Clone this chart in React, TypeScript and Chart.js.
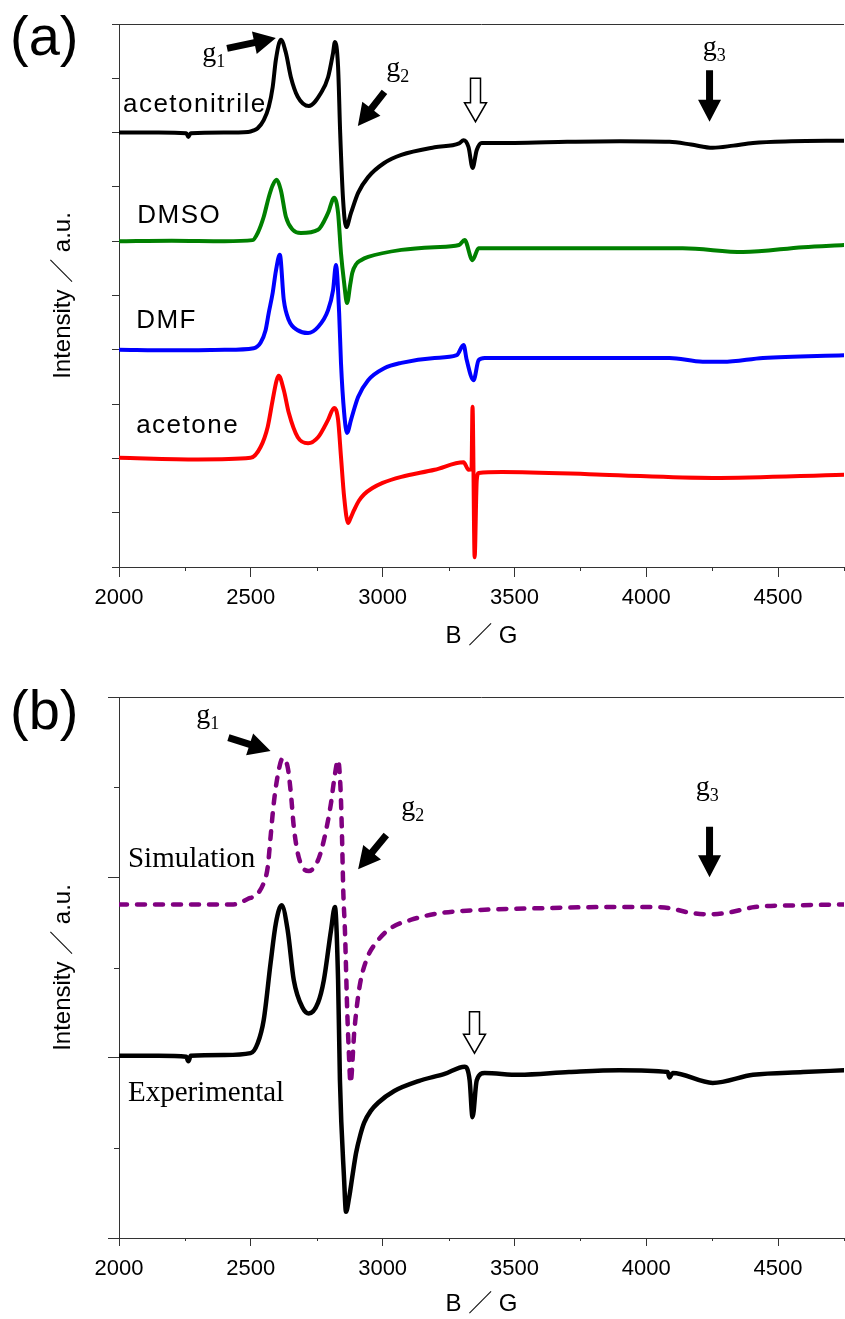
import React, { useEffect, useRef } from 'react';
import { Chart, registerables } from 'chart.js';

Chart.register(...registerables);

const SANS = '"Liberation Sans", Arial, sans-serif';
const SANS_CJK = '"Liberation Sans", "Noto Sans CJK JP", Arial, sans-serif';
const SERIF = '"Liberation Serif", "Times New Roman", serif';
const AXIS_COLOR = '#333333';

// ---------- axes ----------
const X_MIN = 2000;
const X_MAX = 4750;
const xTickValues = [2000, 2250, 2500, 2750, 3000, 3250, 3500, 3750, 4000, 4250, 4500, 4750];
const yTicksA = [0, 1, 2, 3, 4, 5, 6, 7, 8, 9, 10];
const yTicksB = [0, 1, 2, 3, 4, 5, 6];
const xTitle = 'B ／ G';
const yTitle = 'Intensity ／ a.u.';

// ---------- panel (a) ----------
const acnField = [2000, 2150, 2255, 2263, 2272, 2400, 2490, 2511, 2526, 2549, 2568, 2583, 2595, 2614, 2633, 2652, 2678, 2720, 2766, 2793, 2812, 2819, 2831, 2839, 2850, 2862, 2880, 2907, 2945, 3006, 3071, 3197, 3290, 3307, 3326, 3341, 3357, 3376, 3500, 3700, 3900, 4088, 4170, 4252, 4330, 4405, 4550, 4750];
const acnInt = [8.00, 8.00, 7.99, 7.92, 7.99, 8.00, 8.01, 8.04, 8.08, 8.23, 8.47, 8.84, 9.34, 9.71, 9.47, 9.02, 8.66, 8.49, 8.73, 9.02, 9.47, 9.67, 9.21, 7.99, 6.76, 6.26, 6.52, 6.89, 7.18, 7.44, 7.59, 7.73, 7.80, 7.86, 7.73, 7.35, 7.68, 7.81, 7.81, 7.83, 7.84, 7.83, 7.78, 7.72, 7.76, 7.81, 7.84, 7.85];

const dmsoField = [2000, 2200, 2400, 2507, 2526, 2549, 2568, 2583, 2598, 2614, 2633, 2659, 2690, 2755, 2793, 2816, 2831, 2842, 2854, 2865, 2877, 2885, 2900, 2918, 2945, 3071, 3197, 3290, 3311, 3341, 3364, 3600, 4138, 4367, 4595, 4750];
const dmsoInt = [6.00, 6.01, 6.00, 6.02, 6.15, 6.45, 6.81, 7.03, 7.13, 6.94, 6.45, 6.21, 6.15, 6.21, 6.52, 6.80, 6.52, 5.78, 5.23, 4.86, 5.20, 5.42, 5.58, 5.65, 5.71, 5.84, 5.89, 5.93, 6.02, 5.65, 5.87, 5.87, 5.87, 5.80, 5.89, 5.93];

const dmfField = [2000, 2200, 2400, 2511, 2537, 2556, 2568, 2583, 2595, 2610, 2625, 2644, 2678, 2717, 2755, 2793, 2812, 2823, 2835, 2842, 2854, 2865, 2880, 2907, 2945, 3006, 3071, 3197, 3281, 3307, 3319, 3345, 3364, 3387, 4088, 4214, 4290, 4443, 4750];
const dmfInt = [4.00, 3.99, 4.00, 4.03, 4.13, 4.36, 4.68, 5.05, 5.45, 5.75, 4.92, 4.55, 4.36, 4.31, 4.42, 4.73, 5.10, 5.56, 4.68, 3.76, 2.84, 2.47, 2.71, 3.13, 3.44, 3.66, 3.76, 3.85, 3.90, 4.09, 3.81, 3.44, 3.81, 3.85, 3.85, 3.78, 3.78, 3.85, 3.90];

const acetoneField = [2000, 2300, 2499, 2537, 2564, 2583, 2598, 2606, 2625, 2644, 2678, 2717, 2755, 2793, 2816, 2831, 2842, 2854, 2869, 2880, 2892, 2910, 2930, 2960, 3000, 3071, 3197, 3307, 3326, 3337, 3341, 3349, 3357, 3364, 3452, 3833, 4252, 4750];
const acetoneInt = [2.01, 1.98, 2.01, 2.21, 2.58, 3.08, 3.44, 3.52, 3.26, 2.84, 2.39, 2.28, 2.39, 2.71, 2.93, 2.71, 2.03, 1.29, 0.81, 0.92, 1.05, 1.22, 1.34, 1.45, 1.55, 1.66, 1.79, 1.93, 1.79, 1.80, 2.95, 0.18, 1.60, 1.73, 1.75, 1.70, 1.64, 1.70];

// ---------- panel (b) ----------
const simField = [2000, 2200, 2434, 2488, 2526, 2549, 2564, 2575, 2587, 2606, 2621, 2640, 2652, 2663, 2682, 2720, 2755, 2777, 2804, 2816, 2831, 2840, 2845, 2851, 2857, 2866, 2872, 2878, 2893, 2912, 2938, 2982, 3033, 3109, 3211, 3387, 3643, 3830, 4020, 4085, 4161, 4241, 4313, 4412, 4591, 4750];
const simInt = [3.70, 3.70, 3.70, 3.76, 3.82, 3.94, 4.11, 4.45, 4.82, 5.19, 5.32, 5.22, 4.93, 4.56, 4.22, 4.07, 4.19, 4.41, 4.82, 5.08, 5.30, 5.00, 4.56, 3.82, 3.41, 2.49, 2.05, 1.72, 2.31, 2.78, 3.08, 3.30, 3.44, 3.53, 3.60, 3.64, 3.66, 3.67, 3.67, 3.66, 3.61, 3.59, 3.61, 3.67, 3.69, 3.70];

const expField = [2000, 2150, 2255, 2263, 2272, 2400, 2499, 2526, 2549, 2575, 2595, 2617, 2640, 2663, 2697, 2720, 2755, 2777, 2804, 2819, 2831, 2838, 2854, 2861, 2873, 2885, 2899, 2915, 2930, 2955, 2983, 3044, 3136, 3235, 3311, 3330, 3341, 3357, 3387, 3517, 3707, 3898, 4081, 4088, 4100, 4252, 4405, 4595, 4750];
const expInt = [2.02, 2.02, 2.01, 1.96, 2.02, 2.03, 2.05, 2.16, 2.42, 3.05, 3.49, 3.69, 3.41, 2.86, 2.55, 2.49, 2.61, 2.86, 3.41, 3.67, 2.86, 1.75, 0.64, 0.29, 0.45, 0.68, 0.94, 1.14, 1.28, 1.41, 1.50, 1.63, 1.74, 1.82, 1.90, 1.75, 1.34, 1.75, 1.83, 1.81, 1.84, 1.86, 1.84, 1.78, 1.83, 1.72, 1.81, 1.84, 1.86];

// ---------- annotations (data coordinates) ----------
const solventLabelsA = [
  { text: 'acetonitrile', B: 2015, v: 8.38 },
  { text: 'DMSO', B: 2069, v: 6.34 },
  { text: 'DMF', B: 2065, v: 4.40 },
  { text: 'acetone', B: 2065, v: 2.47 },
];
const gLabelsA = [
  { sub: '1', B: 2316, v: 9.32 },
  { sub: '2', B: 3014, v: 9.04 },
  { sub: '3', B: 4214, v: 9.43 },
];
const solidArrowsA = [
  { B1: 2410, v1: 9.55, B2: 2595, v2: 9.74 },
  { B1: 3007, v1: 8.75, B2: 2906, v2: 8.12 },
  { B1: 4240, v1: 9.15, B2: 4240, v2: 8.20 },
];
const hollowArrowsA = [{ B: 3349, v1: 9.0, v2: 8.2 }];

const textLabelsB = [
  { text: 'Simulation', B: 2034, v: 4.11 },
  { text: 'Experimental', B: 2034, v: 1.52 },
];
const gLabelsB = [
  { sub: '1', B: 2293, v: 5.71 },
  { sub: '2', B: 3071, v: 4.69 },
  { sub: '3', B: 4188, v: 4.91 },
];
const solidArrowsB = [
  { B1: 2415, v1: 5.55, B2: 2575, v2: 5.40 },
  { B1: 3014, v1: 4.47, B2: 2907, v2: 4.09 },
  { B1: 4240, v1: 4.56, B2: 4240, v2: 4.00 },
];
const hollowArrowsB = [{ B: 3345, v1: 2.51, v2: 2.05 }];

const zip = (xs: number[], ys: number[]) => xs.map((x, i) => ({ x, y: ys[i] }));

function drawSolidArrow(ctx: CanvasRenderingContext2D, x1: number, y1: number, x2: number, y2: number) {
  const ang = Math.atan2(y2 - y1, x2 - x1);
  const len = Math.hypot(x2 - x1, y2 - y1);
  const sw = 7, hl = 22, hw = 23;
  ctx.save();
  ctx.translate(x1, y1);
  ctx.rotate(ang);
  ctx.beginPath();
  ctx.moveTo(0, -sw / 2);
  ctx.lineTo(len - hl, -sw / 2);
  ctx.lineTo(len - hl, -hw / 2);
  ctx.lineTo(len, 0);
  ctx.lineTo(len - hl, hw / 2);
  ctx.lineTo(len - hl, sw / 2);
  ctx.lineTo(0, sw / 2);
  ctx.closePath();
  ctx.fillStyle = '#000';
  ctx.fill();
  ctx.restore();
}

function drawHollowArrow(ctx: CanvasRenderingContext2D, x: number, yTop: number, yTip: number) {
  const sw = 10, hl = 19, hw = 22;
  ctx.save();
  ctx.beginPath();
  ctx.moveTo(x - sw / 2, yTop);
  ctx.lineTo(x + sw / 2, yTop);
  ctx.lineTo(x + sw / 2, yTip - hl);
  ctx.lineTo(x + hw / 2, yTip - hl);
  ctx.lineTo(x, yTip);
  ctx.lineTo(x - hw / 2, yTip - hl);
  ctx.lineTo(x - sw / 2, yTip - hl);
  ctx.closePath();
  ctx.fillStyle = '#fff';
  ctx.fill();
  ctx.lineWidth = 1.5;
  ctx.strokeStyle = '#000';
  ctx.lineJoin = 'miter';
  ctx.stroke();
  ctx.restore();
}

function drawG(ctx: CanvasRenderingContext2D, x: number, y: number, sub: string) {
  ctx.save();
  ctx.fillStyle = '#000';
  ctx.textAlign = 'left';
  ctx.textBaseline = 'alphabetic';
  ctx.font = `28px ${SERIF}`;
  ctx.fillText('g', x, y);
  const w = ctx.measureText('g').width;
  ctx.font = `18px ${SERIF}`;
  ctx.fillText(sub, x + w, y + 6);
  ctx.restore();
}

type PanelSpec = {
  letter: string;
  letterY: number;
  yTicks: number[];
  yMajorEvery: number;
  yMinorLen: number;
  xMinorLen: number;
  texts: { text: string; B: number; v: number }[];
  textFont: string;
  textSpacing: string;
  gLabels: { sub: string; B: number; v: number }[];
  solid: { B1: number; v1: number; B2: number; v2: number }[];
  hollow: { B: number; v1: number; v2: number }[];
};

function makePlugin(spec: PanelSpec) {
  return {
    id: 'decor' + spec.letter,
    afterDraw(chart: any) {
      const { ctx, chartArea: a, scales } = chart;
      const x = scales.x;
      const y = scales.y;
      ctx.save();
      // frame top line
      ctx.strokeStyle = AXIS_COLOR;
      ctx.lineWidth = 1;
      ctx.beginPath();
      ctx.moveTo(a.left, Math.round(a.top) + 0.5);
      ctx.lineTo(a.right, Math.round(a.top) + 0.5);
      ctx.stroke();
      // minor ticks
      ctx.beginPath();
      xTickValues.forEach((v) => {
        if (v % 500 !== 0) {
          const p = Math.round(x.getPixelForValue(v)) + 0.5;
          ctx.moveTo(p, a.bottom);
          ctx.lineTo(p, a.bottom + spec.xMinorLen);
        }
      });
      spec.yTicks.forEach((v) => {
        if (v % spec.yMajorEvery !== 0) {
          const p = Math.round(y.getPixelForValue(v)) + 0.5;
          ctx.moveTo(a.left - spec.yMinorLen, p);
          ctx.lineTo(a.left, p);
        }
      });
      ctx.stroke();

      // panel letter
      ctx.fillStyle = '#000';
      ctx.textAlign = 'left';
      ctx.textBaseline = 'alphabetic';
      ctx.font = `56px ${SANS}`;
      ctx.fillText(spec.letter, 10, spec.letterY);

      // curve labels
      ctx.font = spec.textFont;
      (ctx as any).letterSpacing = spec.textSpacing;
      spec.texts.forEach((t) => {
        ctx.fillText(t.text, x.getPixelForValue(t.B), y.getPixelForValue(t.v));
      });
      (ctx as any).letterSpacing = '0px';

      spec.gLabels.forEach((g) => drawG(ctx, x.getPixelForValue(g.B), y.getPixelForValue(g.v), g.sub));
      spec.solid.forEach((s) =>
        drawSolidArrow(ctx, x.getPixelForValue(s.B1), y.getPixelForValue(s.v1), x.getPixelForValue(s.B2), y.getPixelForValue(s.v2))
      );
      spec.hollow.forEach((h) =>
        drawHollowArrow(ctx, Math.round(x.getPixelForValue(h.B)) + 0.5, y.getPixelForValue(h.v1), y.getPixelForValue(h.v2))
      );
      ctx.restore();
    },
  };
}

function makeConfig(opts: {
  datasets: any[];
  yMax: number;
  yTicks: number[];
  yMajorEvery: number;
  yMajorLen: number;
  xMajorLen: number;
  xLabelPad: number;
  xScaleHeight: number;
  padding: { top: number; bottom: number; left: number; right: number };
  plugin: any;
}) {
  return {
    type: 'line' as const,
    data: { datasets: opts.datasets },
    options: {
      responsive: false,
      maintainAspectRatio: false,
      animation: false as const,
      events: [] as any[],
      layout: { padding: opts.padding },
      plugins: { legend: { display: false }, tooltip: { enabled: false } },
      elements: { point: { radius: 0 } },
      scales: {
        x: {
          type: 'linear' as const,
          min: X_MIN,
          max: X_MAX,
          afterBuildTicks: (s: any) => {
            s.ticks = xTickValues.map((value) => ({ value }));
          },
          afterFit: (s: any) => {
            s.height = opts.xScaleHeight;
            s.paddingLeft = 0;
            s.paddingRight = 0;
          },
          ticks: {
            autoSkip: false,
            maxRotation: 0,
            minRotation: 0,
            padding: opts.xLabelPad,
            color: '#000',
            font: { family: SANS, size: 22 },
            callback: (v: any) => (Number(v) % 500 === 0 ? String(v) : ''),
          },
          grid: {
            drawOnChartArea: false,
            drawTicks: true,
            tickLength: opts.xMajorLen,
            tickWidth: 1,
            tickColor: (c: any) => (c.tick && c.tick.value % 500 === 0 ? AXIS_COLOR : 'rgba(0,0,0,0)'),
          },
          border: { display: true, color: AXIS_COLOR, width: 1 },
          title: {
            display: true,
            text: xTitle,
            color: '#000',
            font: { family: SANS_CJK, size: 24 },
            padding: { top: 0, bottom: 0 },
          },
        },
        y: {
          type: 'linear' as const,
          min: 0,
          max: opts.yMax,
          afterBuildTicks: (s: any) => {
            s.ticks = opts.yTicks.map((value) => ({ value }));
          },
          afterFit: (s: any) => {
            s.width = 119;
            s.paddingTop = 0;
            s.paddingBottom = 0;
          },
          ticks: { display: false },
          grid: {
            drawOnChartArea: false,
            drawTicks: true,
            tickLength: opts.yMajorLen,
            tickWidth: 1,
            tickColor: (c: any) =>
              c.tick && c.tick.value % opts.yMajorEvery === 0 ? AXIS_COLOR : 'rgba(0,0,0,0)',
          },
          border: { display: true, color: AXIS_COLOR, width: 1 },
          title: {
            display: true,
            text: yTitle,
            color: '#000',
            font: { family: SANS_CJK, size: 24 },
            padding: { top: 49, bottom: 0 },
          },
        },
      },
    },
    plugins: [opts.plugin],
  };
}

const lineBase = {
  pointRadius: 0,
  fill: false,
  cubicInterpolationMode: 'monotone' as const,
  borderJoinStyle: 'round' as const,
  borderCapStyle: 'round' as const,
};

export default function App() {
  const refA = useRef<HTMLCanvasElement>(null);
  const refB = useRef<HTMLCanvasElement>(null);

  useEffect(() => {
    const specA: PanelSpec = {
      letter: '(a)',
      letterY: 55,
      yTicks: yTicksA,
      yMajorEvery: 1,
      yMinorLen: 7,
      xMinorLen: 4,
      texts: solventLabelsA,
      textFont: `26px ${SANS}`,
      textSpacing: '1.5px',
      gLabels: gLabelsA,
      solid: solidArrowsA,
      hollow: hollowArrowsA,
    };
    const specB: PanelSpec = {
      letter: '(b)',
      letterY: 69,
      yTicks: yTicksB,
      yMajorEvery: 2,
      yMinorLen: 5,
      xMinorLen: 3,
      texts: textLabelsB,
      textFont: `29px ${SERIF}`,
      textSpacing: '0px',
      gLabels: gLabelsB,
      solid: solidArrowsB,
      hollow: hollowArrowsB,
    };

    const cfgA = makeConfig({
      datasets: [
        { ...lineBase, label: 'acetonitrile', data: zip(acnField, acnInt), borderColor: '#000000', borderWidth: 4 },
        { ...lineBase, label: 'DMSO', data: zip(dmsoField, dmsoInt), borderColor: '#008000', borderWidth: 4 },
        { ...lineBase, label: 'DMF', data: zip(dmfField, dmfInt), borderColor: '#0000ff', borderWidth: 4 },
        { ...lineBase, label: 'acetone', data: zip(acetoneField, acetoneInt), borderColor: '#ff0000', borderWidth: 4 },
      ],
      yMax: 10,
      yTicks: yTicksA,
      yMajorEvery: 1,
      yMajorLen: 7,
      xMajorLen: 10,
      xLabelPad: 8,
      xScaleHeight: 84,
      padding: { top: 24, bottom: 9, left: 0, right: 1 },
      plugin: makePlugin(specA),
    });

    const cfgB = makeConfig({
      datasets: [
        {
          ...lineBase,
          label: 'Simulation',
          data: zip(simField, simInt),
          borderColor: '#800080',
          borderWidth: 4.5,
          borderDash: [8, 10],
        },
        { ...lineBase, label: 'Experimental', data: zip(expField, expInt), borderColor: '#000000', borderWidth: 4.5 },
      ],
      yMax: 6,
      yTicks: yTicksB,
      yMajorEvery: 2,
      yMajorLen: 11,
      xMajorLen: 8,
      xLabelPad: 10,
      xScaleHeight: 81,
      padding: { top: 37, bottom: 0, left: 0, right: 1 },
      plugin: makePlugin(specB),
    });

    const a = new Chart(refA.current as HTMLCanvasElement, cfgA as any);
    const b = new Chart(refB.current as HTMLCanvasElement, cfgB as any);
    return () => {
      a.destroy();
      b.destroy();
    };
  }, []);

  return (
    <>
      <canvas
        ref={refA}
        width={845}
        height={660}
        style={{ position: 'absolute', left: 0, top: 0, width: 845, height: 660 }}
      />
      <canvas
        ref={refB}
        width={845}
        height={659}
        style={{ position: 'absolute', left: 0, top: 660, width: 845, height: 659 }}
      />
    </>
  );
}
